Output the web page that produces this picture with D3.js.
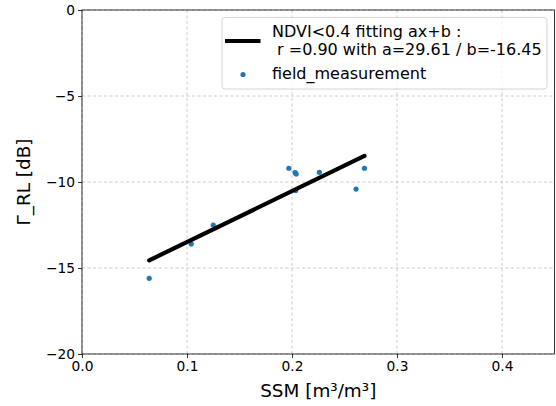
<!DOCTYPE html>
<html><head><meta charset="utf-8">
<script src="https://cdn.jsdelivr.net/npm/d3@7"></script>
<style>
body{margin:0;background:#fff;}
text{font-family:"DejaVu Sans",sans-serif;}
</style></head>
<body><div id="chart"></div>
<script>
const ssm = [0.064, 0.104, 0.125, 0.197, 0.203, 0.204, 0.2035, 0.226, 0.261, 0.269];
const gammaRL = [-15.6, -13.6, -12.5, -9.2, -9.46, -9.53, -10.5, -9.44, -10.41, -9.2];
const fitA = 29.61, fitB = -16.45;
const xTicks = [0.0, 0.1, 0.2, 0.3, 0.4];
const yTicks = [-20, -15, -10, -5, 0];
const legendLabels = ["NDVI<0.4 fitting ax+b :", " r =0.90 with a=29.61 / b=-16.45", "field_measurement"];

const W = 556, H = 406;
const m = {l: 82, r: 1.5, t: 10, b: 52};
const svg = d3.select("#chart").append("svg").attr("width", W).attr("height", H);
const x = d3.scaleLinear().domain([0, 0.45]).range([m.l, W - m.r]);
const y = d3.scaleLinear().domain([-20, 0]).range([H - m.b, m.t]);

// grid
const g = svg.append("g");
g.selectAll(".gx").data(xTicks).join("line")
  .attr("x1", d => x(d)).attr("x2", d => x(d)).attr("y1", y(-20)).attr("y2", y(0))
  .attr("stroke", "#b0b0b0").attr("stroke-width", 0.8).attr("stroke-dasharray", "3,2.5").attr("opacity", 0.8);
g.selectAll(".gy").data(yTicks).join("line")
  .attr("y1", d => y(d)).attr("y2", d => y(d)).attr("x1", x(0)).attr("x2", x(0.45))
  .attr("stroke", "#b0b0b0").attr("stroke-width", 0.8).attr("stroke-dasharray", "3,2.5").attr("opacity", 0.8);

// points
svg.selectAll(".pt").data(ssm.map((d, i) => [d, gammaRL[i]])).join("circle")
  .attr("cx", d => x(d[0])).attr("cy", d => y(d[1])).attr("r", 2.6).attr("fill", "#1f77b4");

// fit line (drawn over the points)
const xmin = d3.min(ssm), xmax = d3.max(ssm);
svg.append("line")
  .attr("x1", x(xmin)).attr("y1", y(fitA * xmin + fitB))
  .attr("x2", x(xmax)).attr("y2", y(fitA * xmax + fitB))
  .attr("stroke", "#000").attr("stroke-width", 4.2).attr("stroke-linecap", "round");

// axes
const xAxis = svg.append("g").attr("transform", `translate(0,${y(-20)})`)
  .call(d3.axisBottom(x).tickValues(xTicks).tickFormat(d3.format(".1f")).tickSize(4).tickPadding(3));
const yAxis = svg.append("g").attr("transform", `translate(${x(0)},0)`)
  .call(d3.axisLeft(y).tickValues(yTicks).tickFormat(d => d < 0 ? "\u2212" + Math.abs(d) : d).tickSize(4).tickPadding(3));
[xAxis, yAxis].forEach(a => {
  a.selectAll("text").attr("font-size", "13.8px").attr("fill", "#000").attr("font-family", "DejaVu Sans");
  a.selectAll("line").attr("stroke", "#000").attr("stroke-width", 0.8);
  a.select(".domain").remove();
});
// spines
svg.append("rect").attr("x", x(0)).attr("y", y(0)).attr("width", x(0.45) - x(0)).attr("height", y(-20) - y(0))
  .attr("fill", "none").attr("stroke", "#000").attr("stroke-width", 0.8);

// axis labels
svg.append("text").attr("x", (x(0) + x(0.45)) / 2).attr("y", 397).attr("text-anchor", "middle")
  .attr("font-size", "18.4px").text("SSM [m\u00b3/m\u00b3]");
svg.append("text").attr("transform", `translate(30,${(y(0) + y(-20)) / 2}) rotate(-90)`).attr("text-anchor", "middle")
  .attr("font-size", "18.4px").text("\u0393_RL [dB]");

// legend
const lg = svg.append("g");
lg.append("rect").attr("x", 222).attr("y", 17.5).attr("width", 325).attr("height", 71.5).attr("rx", 3)
  .attr("fill", "#fff").attr("fill-opacity", 0.8).attr("stroke", "#cccccc").attr("stroke-width", 0.8);
lg.append("line").attr("x1", 225).attr("x2", 260.5).attr("y1", 41).attr("y2", 41)
  .attr("stroke", "#000").attr("stroke-width", 4.2);
lg.append("text").attr("x", 272).attr("y", 36.5).attr("font-size", "16px").text(legendLabels[0]);
lg.append("text").attr("x", 272).attr("y", 54.8).attr("font-size", "16px").attr("xml:space", "preserve").style("white-space", "pre").text(legendLabels[1]);
lg.append("circle").attr("cx", 243).attr("cy", 74.5).attr("r", 2.6).attr("fill", "#1f77b4");
lg.append("text").attr("x", 272).attr("y", 78.5).attr("font-size", "16px").text(legendLabels[2]);
</script></body></html>
